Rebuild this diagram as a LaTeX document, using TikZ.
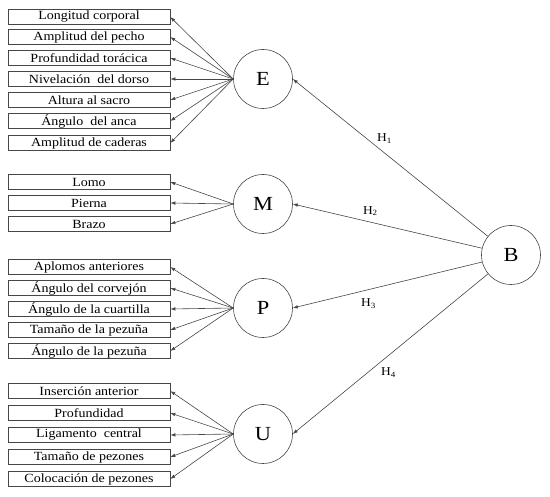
\documentclass[tikz,border=0pt]{standalone}
\usepackage{fontspec}
\setmainfont{Liberation Serif}[FakeStretch=1.12]
\usetikzlibrary{arrows.meta}
\definecolor{linegray}{RGB}{70,70,70}

\begin{document}
\begin{tikzpicture}[x=1pt, y=-1pt, >={Latex[length=5pt,width=3.5pt]}, line width=0.6pt,
    item/.style={draw=linegray, minimum width=162pt, minimum height=15.5pt, inner sep=0pt,
      font=\fontsize{12.5}{14}\selectfont},
    factor/.style={draw=linegray, circle, minimum size=59pt, inner sep=0pt,
      font=\fontsize{20}{22}\selectfont},
    hlabel/.style={text=black, font=\fontsize{12}{14}\selectfont, inner sep=1pt}]

    \useasboundingbox (0,0) rectangle (550,497);

    \node[factor] (E) at (263,79) {E};
    \node[factor] (M) at (263,204) {M};
    \node[factor] (P) at (263,308) {P};
    \node[factor] (U) at (263,434) {U};
    \node[factor] (B) at (511,255) {B};

    \foreach \txt/\y/\i in {Longitud corporal/17/1, Amplitud del pecho/37/2,
        Profundidad torácica/58/3, Nivelación\ \ del dorso/79/4, Altura al sacro/100/5,
        Ángulo\ \ del anca/121/6, Amplitud de caderas/143/7} {
        \node[item] (e\i) at (89,\y) {\txt};
        \draw[->, linegray] (E.west) -- (e\i.east);
    }

    \foreach \txt/\y/\i in {Lomo/182/1, Pierna/203/2, Brazo/224/3} {
        \node[item] (m\i) at (89,\y) {\txt};
        \draw[->, linegray] (M.west) -- (m\i.east);
    }

    \foreach \txt/\y/\i in {Aplomos anteriores/267/1, Ángulo del corvejón/288/2,
        Ángulo de la cuartilla/309/3, Tamaño de la pezuña/330/4, Ángulo de la pezuña/351/5} {
        \node[item] (p\i) at (89,\y) {\txt};
        \draw[->, linegray] (P.west) -- (p\i.east);
    }

    \foreach \txt/\y/\i in {Inserción anterior/391/1, Profundidad/413/2,
        Ligamento\ \ central/435/3, Tamaño de pezones/457/4, Colocación de pezones/479/5} {
        \node[item] (u\i) at (89,\y) {\txt};
        \draw[->, linegray] (U.west) -- (u\i.east);
    }

    % structural paths
    \draw[->, linegray] (B) -- (E.east) node[hlabel, pos=0.53, above=8pt] {H\textsubscript{1}};
    \draw[->, linegray] (B) -- (M.east) node[hlabel, pos=0.59, above=5pt] {H\textsubscript{2}};
    \draw[->, linegray] (B) -- (P.east) node[hlabel, pos=0.60, below=8pt] {H\textsubscript{3}};
    \draw[->, linegray] (B) -- (U.east) node[hlabel, pos=0.51, below=11pt] {H\textsubscript{4}};

\end{tikzpicture}
\end{document}
